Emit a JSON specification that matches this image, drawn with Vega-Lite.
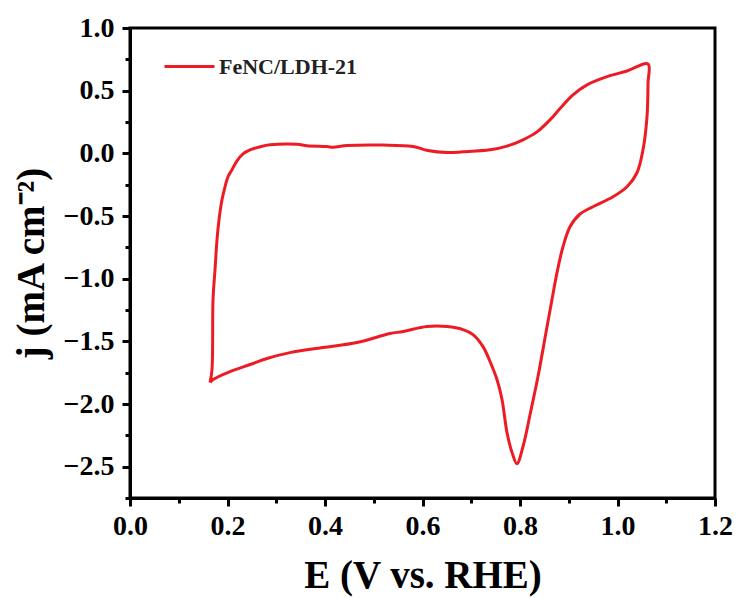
{
  "$schema": "https://vega.github.io/schema/vega-lite/v6.json",
  "width": 585,
  "height": 470,
  "autosize": "none",
  "padding": {"left": 130, "top": 28, "right": 24, "bottom": 100},
  "background": "white",
  "config": {
    "view": {"stroke": "black", "strokeWidth": 3},
    "font": "Liberation Serif"
  },
  "data": {
    "values": [
      {"i": 0, "E": 0.1641, "j": -1.829, "series": "FeNC/LDH-21"},
      {"i": 1, "E": 0.1682, "j": -1.725, "series": "FeNC/LDH-21"},
      {"i": 2, "E": 0.1703, "j": -1.167, "series": "FeNC/LDH-21"},
      {"i": 3, "E": 0.1744, "j": -0.928, "series": "FeNC/LDH-21"},
      {"i": 4, "E": 0.1785, "j": -0.689, "series": "FeNC/LDH-21"},
      {"i": 5, "E": 0.1826, "j": -0.53, "series": "FeNC/LDH-21"},
      {"i": 6, "E": 0.1887, "j": -0.371, "series": "FeNC/LDH-21"},
      {"i": 7, "E": 0.1949, "j": -0.267, "series": "FeNC/LDH-21"},
      {"i": 8, "E": 0.201, "j": -0.187, "series": "FeNC/LDH-21"},
      {"i": 9, "E": 0.2092, "j": -0.131, "series": "FeNC/LDH-21"},
      {"i": 10, "E": 0.2195, "j": -0.06, "series": "FeNC/LDH-21"},
      {"i": 11, "E": 0.2318, "j": -0.004, "series": "FeNC/LDH-21"},
      {"i": 12, "E": 0.2462, "j": 0.028, "series": "FeNC/LDH-21"},
      {"i": 13, "E": 0.2667, "j": 0.052, "series": "FeNC/LDH-21"},
      {"i": 14, "E": 0.2872, "j": 0.068, "series": "FeNC/LDH-21"},
      {"i": 15, "E": 0.3426, "j": 0.072, "series": "FeNC/LDH-21"},
      {"i": 16, "E": 0.3631, "j": 0.06, "series": "FeNC/LDH-21"},
      {"i": 17, "E": 0.4041, "j": 0.054, "series": "FeNC/LDH-21"},
      {"i": 18, "E": 0.4164, "j": 0.048, "series": "FeNC/LDH-21"},
      {"i": 19, "E": 0.4451, "j": 0.062, "series": "FeNC/LDH-21"},
      {"i": 20, "E": 0.519, "j": 0.066, "series": "FeNC/LDH-21"},
      {"i": 21, "E": 0.5805, "j": 0.055, "series": "FeNC/LDH-21"},
      {"i": 22, "E": 0.611, "j": 0.022, "series": "FeNC/LDH-21"},
      {"i": 23, "E": 0.6503, "j": 0.006, "series": "FeNC/LDH-21"},
      {"i": 24, "E": 0.6831, "j": 0.012, "series": "FeNC/LDH-21"},
      {"i": 25, "E": 0.7385, "j": 0.028, "series": "FeNC/LDH-21"},
      {"i": 26, "E": 0.7733, "j": 0.058, "series": "FeNC/LDH-21"},
      {"i": 27, "E": 0.8062, "j": 0.108, "series": "FeNC/LDH-21"},
      {"i": 28, "E": 0.8349, "j": 0.171, "series": "FeNC/LDH-21"},
      {"i": 29, "E": 0.8615, "j": 0.267, "series": "FeNC/LDH-21"},
      {"i": 30, "E": 0.8821, "j": 0.357, "series": "FeNC/LDH-21"},
      {"i": 31, "E": 0.9087, "j": 0.466, "series": "FeNC/LDH-21"},
      {"i": 32, "E": 0.9374, "j": 0.546, "series": "FeNC/LDH-21"},
      {"i": 33, "E": 0.9785, "j": 0.612, "series": "FeNC/LDH-21"},
      {"i": 34, "E": 1.0195, "j": 0.657, "series": "FeNC/LDH-21"},
      {"i": 35, "E": 1.0626, "j": 0.713, "series": "FeNC/LDH-21"},
      {"i": 36, "E": 1.0626, "j": 0.562, "series": "FeNC/LDH-21"},
      {"i": 37, "E": 1.0605, "j": 0.291, "series": "FeNC/LDH-21"},
      {"i": 38, "E": 1.0523, "j": 0.028, "series": "FeNC/LDH-21"},
      {"i": 39, "E": 1.04, "j": -0.155, "series": "FeNC/LDH-21"},
      {"i": 40, "E": 1.0195, "j": -0.267, "series": "FeNC/LDH-21"},
      {"i": 41, "E": 0.9908, "j": -0.347, "series": "FeNC/LDH-21"},
      {"i": 42, "E": 0.9497, "j": -0.426, "series": "FeNC/LDH-21"},
      {"i": 43, "E": 0.9231, "j": -0.484, "series": "FeNC/LDH-21"},
      {"i": 44, "E": 0.9026, "j": -0.586, "series": "FeNC/LDH-21"},
      {"i": 45, "E": 0.8882, "j": -0.745, "series": "FeNC/LDH-21"},
      {"i": 46, "E": 0.8759, "j": -0.952, "series": "FeNC/LDH-21"},
      {"i": 47, "E": 0.8656, "j": -1.167, "series": "FeNC/LDH-21"},
      {"i": 48, "E": 0.8533, "j": -1.43, "series": "FeNC/LDH-21"},
      {"i": 49, "E": 0.8369, "j": -1.781, "series": "FeNC/LDH-21"},
      {"i": 50, "E": 0.8215, "j": -2.068, "series": "FeNC/LDH-21"},
      {"i": 51, "E": 0.8062, "j": -2.339, "series": "FeNC/LDH-21"},
      {"i": 52, "E": 0.7938, "j": -2.476, "series": "FeNC/LDH-21"},
      {"i": 53, "E": 0.7836, "j": -2.386, "series": "FeNC/LDH-21"},
      {"i": 54, "E": 0.7733, "j": -2.227, "series": "FeNC/LDH-21"},
      {"i": 55, "E": 0.7631, "j": -1.964, "series": "FeNC/LDH-21"},
      {"i": 56, "E": 0.7528, "j": -1.805, "series": "FeNC/LDH-21"},
      {"i": 57, "E": 0.7385, "j": -1.661, "series": "FeNC/LDH-21"},
      {"i": 58, "E": 0.7241, "j": -1.542, "series": "FeNC/LDH-21"},
      {"i": 59, "E": 0.7036, "j": -1.446, "series": "FeNC/LDH-21"},
      {"i": 60, "E": 0.6831, "j": -1.406, "series": "FeNC/LDH-21"},
      {"i": 61, "E": 0.6503, "j": -1.382, "series": "FeNC/LDH-21"},
      {"i": 62, "E": 0.6092, "j": -1.382, "series": "FeNC/LDH-21"},
      {"i": 63, "E": 0.56, "j": -1.422, "series": "FeNC/LDH-21"},
      {"i": 64, "E": 0.5333, "j": -1.438, "series": "FeNC/LDH-21"},
      {"i": 65, "E": 0.4656, "j": -1.51, "series": "FeNC/LDH-21"},
      {"i": 66, "E": 0.3959, "j": -1.55, "series": "FeNC/LDH-21"},
      {"i": 67, "E": 0.3282, "j": -1.59, "series": "FeNC/LDH-21"},
      {"i": 68, "E": 0.281, "j": -1.637, "series": "FeNC/LDH-21"},
      {"i": 69, "E": 0.2462, "j": -1.685, "series": "FeNC/LDH-21"},
      {"i": 70, "E": 0.2051, "j": -1.741, "series": "FeNC/LDH-21"},
      {"i": 71, "E": 0.1703, "j": -1.805, "series": "FeNC/LDH-21"},
      {"i": 72, "E": 0.1641, "j": -1.829, "series": "FeNC/LDH-21"}
    ]
  },
  "mark": {"type": "line", "strokeWidth": 3, "interpolate": "catmull-rom"},
  "encoding": {
    "x": {
      "field": "E",
      "type": "quantitative",
      "scale": {"domain": [0, 1.2], "nice": false, "zero": false},
      "axis": {
        "title": "E (V vs. RHE)",
        "values": [0, 0.1, 0.2, 0.3, 0.4, 0.5, 0.6, 0.7, 0.8, 0.9, 1.0, 1.1, 1.2],
        "labelExpr": "abs(datum.value * 5 - round(datum.value * 5)) < 0.01 ? format(datum.value, '.1f') : ''",
        "grid": false,
        "domainColor": "black",
        "domainWidth": 3,
        "tickColor": "black",
        "tickWidth": 3,
        "tickSize": {"condition": {"test": "abs(datum.value * 5 - round(datum.value * 5)) < 0.01", "value": 8}, "value": 5},
        "labelFont": "Liberation Serif",
        "labelFontWeight": "bold",
        "labelFontSize": 28,
        "labelColor": "black",
        "labelPadding": 6,
        "labelFlush": false,
        "labelOverlap": false,
        "titleFont": "Liberation Serif",
        "titleFontWeight": "bold",
        "titleFontSize": 39,
        "titleColor": "black",
        "titlePadding": 16
      }
    },
    "y": {
      "field": "j",
      "type": "quantitative",
      "scale": {"domain": [-2.75, 1.0], "nice": false, "zero": false},
      "axis": {
        "title": "j (mA cm⁻²)",
        "values": [-2.75, -2.5, -2.25, -2.0, -1.75, -1.5, -1.25, -1.0, -0.75, -0.5, -0.25, 0, 0.25, 0.5, 0.75, 1.0],
        "labelExpr": "abs(datum.value * 2 - round(datum.value * 2)) < 0.01 ? format(datum.value, '.1f') : ''",
        "grid": false,
        "domainColor": "black",
        "domainWidth": 3,
        "tickColor": "black",
        "tickWidth": 3,
        "tickSize": {"condition": {"test": "abs(datum.value * 2 - round(datum.value * 2)) < 0.01", "value": 8}, "value": 5},
        "labelFont": "Liberation Serif",
        "labelFontWeight": "bold",
        "labelFontSize": 28,
        "labelColor": "black",
        "labelPadding": 8,
        "labelFlush": false,
        "labelOverlap": false,
        "titleFont": "Liberation Serif",
        "titleFontWeight": "bold",
        "titleFontSize": 39,
        "titleColor": "black",
        "titlePadding": 12
      }
    },
    "color": {
      "field": "series",
      "type": "nominal",
      "scale": {"range": ["#ed1c24"]},
      "legend": {
        "title": null,
        "orient": "none",
        "legendX": 33,
        "legendY": 12,
        "symbolType": "stroke",
        "symbolSize": 2500,
        "symbolStrokeWidth": 3,
        "labelFont": "Liberation Serif",
        "labelFontWeight": "bold",
        "labelFontSize": 22,
        "labelColor": "#222222",
        "labelOffset": 3
      }
    },
    "order": {"field": "i", "type": "quantitative"}
  }
}
